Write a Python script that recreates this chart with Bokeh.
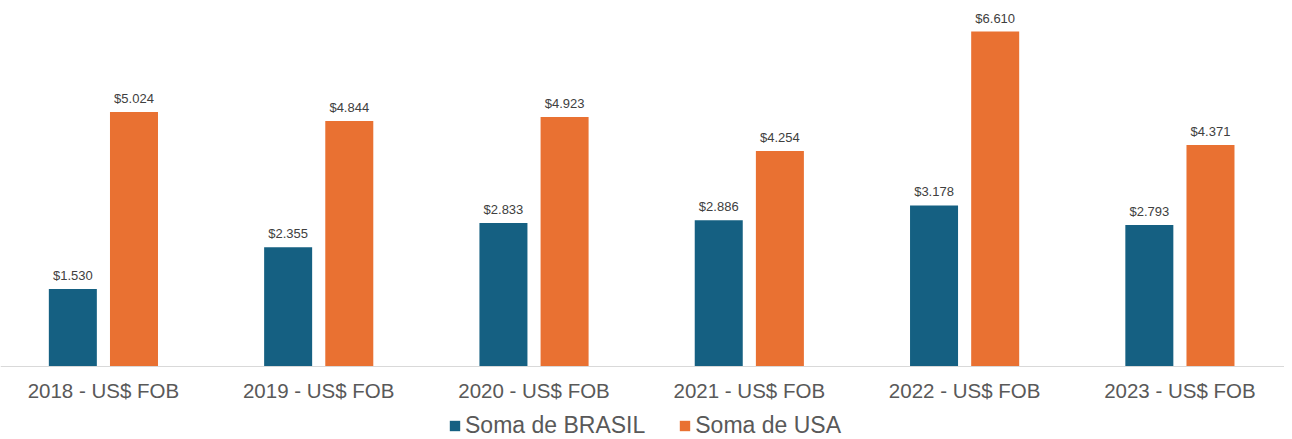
from bokeh.plotting import figure
from bokeh.models import ColumnDataSource, Range1d, Legend, LegendItem, Span
from bokeh.transform import dodge
from bokeh.core.properties import value
from bokeh.embed import file_html
from bokeh.resources import INLINE

categories = ["2018 - US$ FOB", "2019 - US$ FOB", "2020 - US$ FOB",
              "2021 - US$ FOB", "2022 - US$ FOB", "2023 - US$ FOB"]
brasil = [1530, 2355, 2833, 2886, 3178, 2793]
usa = [5024, 4844, 4923, 4254, 6610, 4371]
series_names = ["Soma de BRASIL", "Soma de USA"]

BLUE = "#156082"
ORANGE = "#E97132"
FONT = "Liberation Sans"


def fmt(v):
    return "$" + f"{v:,}".replace(",", ".")


idx = list(range(len(categories)))
src = ColumnDataSource(dict(
    idx=idx,
    zero=[0] * len(idx),
    cat=categories,
    brasil=brasil,
    usa=usa,
    brasil_lbl=[fmt(v) for v in brasil],
    usa_lbl=[fmt(v) for v in usa],
))

W, H = 1284, 439
p = figure(frame_width=W, frame_height=H,
           x_range=Range1d(-0.478, -0.478 + W / 215.3),
           y_range=Range1d(-1440, 7222),
           x_axis_location=None, y_axis_location=None,
           output_backend="svg", toolbar_location=None,
           min_border_left=0, min_border_right=0, min_border_top=0,
           min_border_bottom=0)

off = 0.142
bw = 0.223
r1 = p.vbar(x=dodge("idx", -off, range=p.x_range), top="brasil", width=bw,
            source=src, fill_color=BLUE, line_color=None)
r2 = p.vbar(x=dodge("idx", off, range=p.x_range), top="usa", width=bw,
            source=src, fill_color=ORANGE, line_color=None)

for col, lbl, o in (("brasil", "brasil_lbl", -off), ("usa", "usa_lbl", off)):
    p.text(x=dodge("idx", o, range=p.x_range), y=col, text=lbl, source=src,
           text_font=value(FONT), text_font_size="13px", text_color="#404040",
           text_align="center", text_baseline="bottom", y_offset=-6)

# category labels under the baseline
p.text(x="idx", y="zero", text="cat", source=src,
       text_font=value(FONT), text_font_size="20.5px", text_color="#595959",
       text_align="center", text_baseline="middle", y_offset=24)

p.add_layout(Span(location=0, dimension="width", line_color="#D9D9D9",
                  line_width=1))

p.xgrid.visible = False
p.ygrid.visible = False
p.outline_line_color = None

legend = Legend(items=[LegendItem(label=series_names[0], renderers=[r1]),
                       LegendItem(label=series_names[1], renderers=[r2])],
                orientation="horizontal", location=(448, 0),
                glyph_width=13, glyph_height=13, label_standoff=4,
                spacing=33, padding=0, margin=0,
                label_text_font=FONT, label_text_font_size="23px",
                label_text_color="#595959",
                background_fill_alpha=0, border_line_color=None)
p.add_layout(legend)

open("out.html", "w").write(file_html(p, INLINE))
